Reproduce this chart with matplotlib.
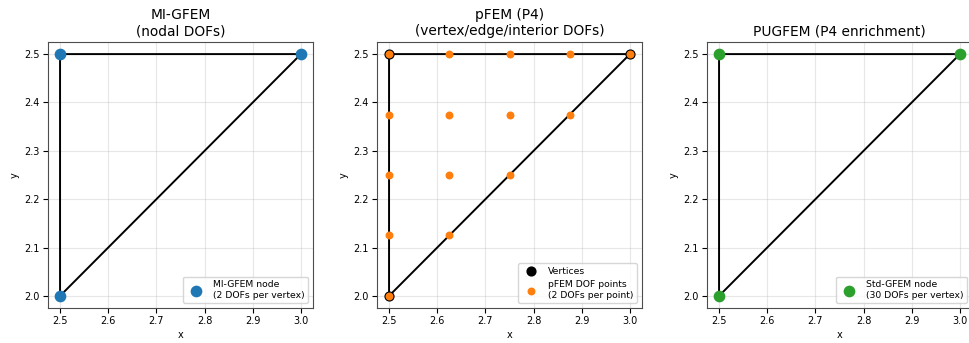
import matplotlib

matplotlib.use("Agg")
import matplotlib.pyplot as plt

# triangle element (closed loop)
TRI_X = [2.5, 2.5, 3.0, 2.5]
TRI_Y = [2.0, 2.5, 2.5, 2.0]

VERT_X = [2.5, 2.5, 3.0]
VERT_Y = [2.0, 2.5, 2.5]

# P4 lattice points on the triangle
P4_X = [2.5, 2.5, 2.625, 2.5, 2.625, 2.75, 2.5, 2.625, 2.75, 2.875,
        2.5, 2.625, 2.75, 2.875, 3.0]
P4_Y = [2.0, 2.125, 2.125, 2.25, 2.25, 2.25, 2.375, 2.375, 2.375, 2.375,
        2.5, 2.5, 2.5, 2.5, 2.5]

TITLES = ["MI-GFEM\n(nodal DOFs)", "pFEM (P4)\n(vertex/edge/interior DOFs)", "PUGFEM (P4 enrichment)"]
TICKS_X = [2.5, 2.6, 2.7, 2.8, 2.9, 3.0]
TICKS_Y = [2.0, 2.1, 2.2, 2.3, 2.4, 2.5]


def style_axes(ax, title):
    ax.plot(TRI_X, TRI_Y, color="black", linewidth=1.4, zorder=2)
    ax.set_xlim(2.475, 3.025)
    ax.set_ylim(1.975, 2.525)
    ax.set_xticks(TICKS_X)
    ax.set_yticks(TICKS_Y)
    ax.grid(True, alpha=0.3)
    ax.set_title(title, fontsize=9.9, pad=5)
    ax.set_xlabel("x", fontsize=7, labelpad=3)
    ax.set_ylabel("y", fontsize=7, labelpad=3)
    ax.tick_params(labelsize=7, length=3.5, pad=2.5)
    for spine in ax.spines.values():
        spine.set_color("0.3")


def main():
    fig = plt.figure(figsize=(9.69, 3.43), dpi=100)
    W, H = 969, 343
    lefts = [48, 377, 707]
    axes = [fig.add_axes([l / W, 1 - 308 / H, 265 / W, 266 / H]) for l in lefts]

    ax = axes[0]
    style_axes(ax, TITLES[0])
    ax.scatter(VERT_X, VERT_Y, s=55, color="#1f77b4", zorder=3,
               label="MI-GFEM node\n(2 DOFs per vertex)")
    ax.legend(loc="lower right", fontsize=6.7)

    ax = axes[1]
    style_axes(ax, TITLES[1])
    ax.scatter(VERT_X, VERT_Y, s=40, color="black", zorder=3, label="Vertices")
    ax.scatter(P4_X, P4_Y, s=22, color="#ff7f0e", zorder=4,
               label="pFEM DOF points\n(2 DOFs per point)")
    ax.legend(loc="lower right", fontsize=6.7)

    ax = axes[2]
    style_axes(ax, TITLES[2])
    ax.scatter(VERT_X, VERT_Y, s=55, color="#2ca02c", zorder=3,
               label="Std-GFEM node\n(30 DOFs per vertex)")
    ax.legend(loc="lower right", fontsize=6.7)

    fig.savefig("out.png", dpi=100)
    plt.close(fig)


if __name__ == "__main__":
    main()
